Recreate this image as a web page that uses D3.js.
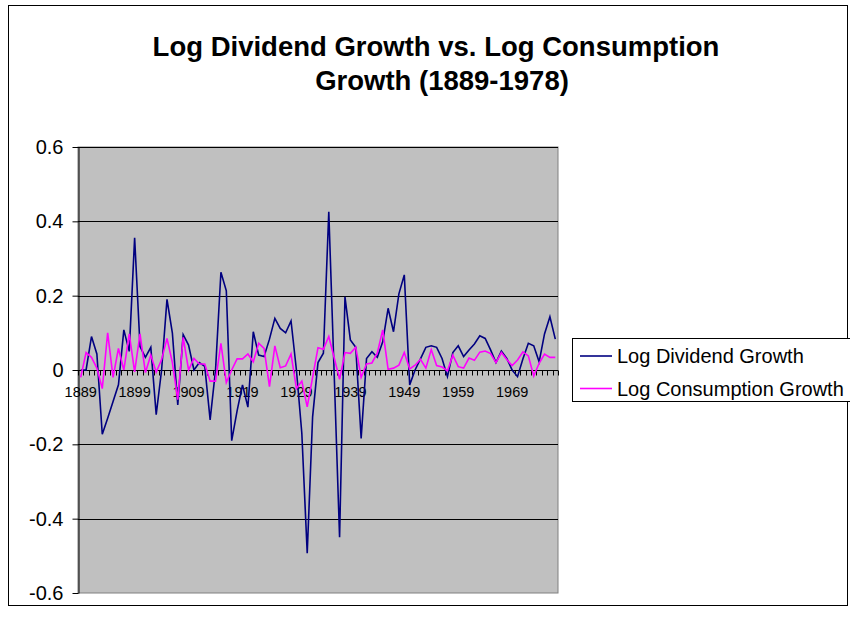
<!DOCTYPE html>
<html>
<head>
<meta charset="utf-8">
<script src="https://cdn.jsdelivr.net/npm/d3@7"></script>
<style>
  html, body { margin: 0; padding: 0; background: #fff; }
  svg { display: block; font-family: "Liberation Sans", Arial, sans-serif; }
</style>
</head>
<body>
<svg id="chart" width="850" height="623"></svg>
<script>
// ---- Data ----
const years = d3.range(1889, 1978); // 89 categories, 1889..1977
const tickYears = [1889, 1899, 1909, 1919, 1929, 1939, 1949, 1959, 1969];
const yTicks = [-0.6, -0.4, -0.2, 0, 0.2, 0.4, 0.6];
const yTickLabels = ["-0.6", "-0.4", "-0.2", "0", "0.2", "0.4", "0.6"];
const seriesNames = ["Log Dividend Growth", "Log Consumption Growth"];

const dividendGrowth = [
  0.0, 0.0, 0.09, 0.043, -0.173, -0.13, -0.085, -0.04, 0.108, 0.05,
  0.356, 0.063, 0.034, 0.061, -0.12, 0.0, 0.19, 0.099, -0.094, 0.095,
  0.067, 0.0, 0.02, 0.01, -0.134, 0.0, 0.263, 0.213, -0.19, -0.11,
  -0.04, -0.10, 0.103, 0.04, 0.036, 0.083, 0.139, 0.112, 0.10, 0.132,
  0.0, -0.17, -0.493, -0.126, 0.02, 0.045, 0.426, -0.01, -0.45, 0.197,
  0.081, 0.061, -0.184, 0.031, 0.049, 0.034, 0.076, 0.166, 0.103, 0.205,
  0.256, -0.04, 0.0, 0.03, 0.061, 0.065, 0.061, 0.031, -0.018, 0.047,
  0.065, 0.036, 0.054, 0.07, 0.092, 0.085, 0.054, 0.02, 0.051, 0.031,
  0.0, -0.018, 0.03, 0.072, 0.065, 0.022, 0.097, 0.143, 0.083
];

const consumptionGrowth = [
  -0.02, 0.047, 0.034, 0.005, -0.05, 0.10, -0.02, 0.058, 0.0, 0.097,
  -0.005, 0.097, -0.007, 0.04, -0.006, 0.028, 0.085, 0.02, -0.08, 0.088,
  0.0, 0.031, 0.016, 0.016, -0.03, -0.03, 0.072, -0.034, 0.0, 0.03,
  0.03, 0.043, 0.022, 0.072, 0.058, -0.045, 0.065, 0.006, 0.011, 0.043,
  -0.05, -0.03, -0.099, -0.02, 0.06, 0.056, 0.09, 0.033, -0.025, 0.047,
  0.045, 0.061, -0.02, 0.016, 0.019, 0.046, 0.108, 0.002, 0.005, 0.013,
  0.047, 0.003, 0.013, 0.029, 0.005, 0.055, 0.012, 0.008, -0.002, 0.04,
  0.009, 0.005, 0.032, 0.026, 0.048, 0.051, 0.044, 0.02, 0.047, 0.028,
  0.012, 0.027, 0.049, 0.038, -0.016, 0.018, 0.043, 0.034, 0.034
];

const colors = ["#000080", "#FF00FF"];

// ---- Layout ----
const svg = d3.select("#chart");
const plot = { left: 78, top: 147, right: 558, bottom: 593 };

// outer chart border
svg.append("rect")
  .attr("x", 8.5).attr("y", 5.5).attr("width", 839).attr("height", 600)
  .attr("fill", "#fff").attr("stroke", "#000").attr("stroke-width", 1);

// title
const title = svg.append("text")
  .attr("text-anchor", "middle")
  .attr("font-weight", "bold")
  .attr("font-size", 27.5)
  .attr("fill", "#000");
title.append("tspan").attr("x", 436).attr("y", 56).text("Log Dividend Growth vs. Log Consumption");
title.append("tspan").attr("x", 442).attr("y", 90).text("Growth (1889-1978)");

// scales
const x = d3.scaleBand().domain(years).range([plot.left, plot.right]).padding(0);
const y = d3.scaleLinear().domain([-0.6, 0.6]).range([plot.bottom, plot.top]);
const cx = yr => x(yr) + x.bandwidth() / 2;

// plot background
svg.append("rect")
  .attr("x", plot.left).attr("y", plot.top)
  .attr("width", plot.right - plot.left).attr("height", plot.bottom - plot.top)
  .attr("fill", "#C0C0C0").attr("stroke", "#808080").attr("stroke-width", 1);

// gridlines
svg.append("g").selectAll("line")
  .data(yTicks.filter(t => t !== 0 && t !== -0.6))
  .join("line")
  .attr("x1", plot.left).attr("x2", plot.right)
  .attr("y1", d => Math.round(y(d)) + 0.5).attr("y2", d => Math.round(y(d)) + 0.5)
  .attr("stroke", "#000").attr("stroke-width", 1);

// y axis
const yAxis = d3.axisLeft(y).tickValues(yTicks).tickSize(6).tickSizeOuter(0)
  .tickFormat((d, i) => yTickLabels[i]);
const gy = svg.append("g")
  .attr("transform", `translate(${plot.left + 0.5},0)`)
  .call(yAxis);
gy.select(".domain").attr("stroke", "#000");
gy.selectAll(".tick line").attr("stroke", "#000");
gy.selectAll(".tick text")
  .attr("font-size", 20).attr("font-family", "Liberation Sans, Arial, sans-serif")
  .attr("fill", "#000").attr("x", -15);

// x axis at y = 0 with tick marks between every category
const zeroY = Math.round(y(0)) + 0.5;
const gx = svg.append("g").attr("transform", `translate(0,${zeroY})`);
gx.append("line").attr("x1", plot.left).attr("x2", plot.right)
  .attr("y1", 0).attr("y2", 0).attr("stroke", "#000");
const boundaries = years.map(yr => x(yr)).concat([plot.right]);
gx.selectAll("line.tk").data(boundaries).join("line")
  .attr("class", "tk")
  .attr("x1", d => Math.round(d) + 0.5).attr("x2", d => Math.round(d) + 0.5)
  .attr("y1", 0).attr("y2", 5)
  .attr("stroke", "#000");
gx.selectAll("text").data(tickYears).join("text")
  .attr("x", d => cx(d)).attr("y", 26)
  .attr("text-anchor", "middle")
  .attr("font-size", 14.5)
  .attr("fill", "#000")
  .text(d => d);

// lines
const line = d3.line().x((d, i) => cx(years[i])).y(d => y(d));
[dividendGrowth, consumptionGrowth].forEach((s, k) => {
  svg.append("path")
    .datum(s)
    .attr("d", line)
    .attr("fill", "none")
    .attr("stroke", colors[k])
    .attr("stroke-width", 1.6)
    .attr("stroke-linejoin", "miter")
    .attr("stroke-miterlimit", 4);
});

// legend
const lg = svg.append("g");
lg.append("rect")
  .attr("x", 572.5).attr("y", 338.5).attr("width", 300).attr("height", 63)
  .attr("fill", "#fff").attr("stroke", "#000").attr("stroke-width", 1);
seriesNames.forEach((name, k) => {
  const yy = 356 + k * 32.5;
  lg.append("line").attr("x1", 580).attr("x2", 612)
    .attr("y1", yy).attr("y2", yy)
    .attr("stroke", colors[k]).attr("stroke-width", 1.6);
  lg.append("text").attr("x", 617).attr("y", yy + 7)
    .attr("font-size", 20).attr("fill", "#000").text(name);
});
</script>
</body>
</html>
